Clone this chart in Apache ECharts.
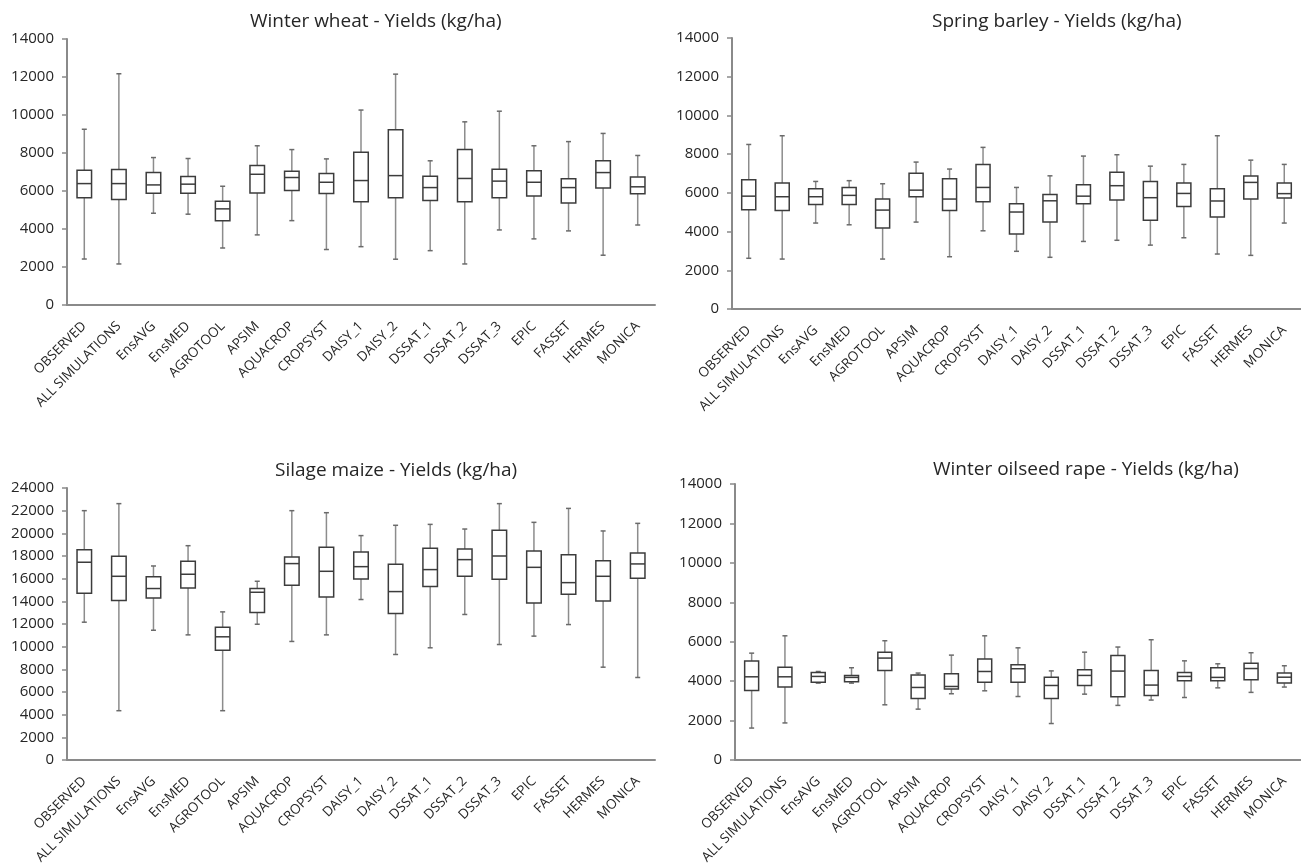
<!DOCTYPE html>
<html>
<head>
<meta charset="utf-8">
<script src="https://cdn.jsdelivr.net/npm/echarts@6/dist/echarts.min.js"></script>
<style>
html,body{margin:0;padding:0;background:#fff;}
#c{width:1301px;height:868px;}
</style>
</head>
<body>
<div id="c"></div>
<script>
const categories = ["OBSERVED","ALL SIMULATIONS","EnsAVG","EnsMED","AGROTOOL","APSIM","AQUACROP","CROPSYST","DAISY_1","DAISY_2","DSSAT_1","DSSAT_2","DSSAT_3","EPIC","FASSET","HERMES","MONICA"];

// [low whisker, Q1, median, Q3, high whisker]
const winterWheat = [
  [2420,5640,6390,7090,9250],
  [2160,5550,6390,7130,12170],
  [4830,5880,6320,6970,7760],
  [4780,5880,6360,6760,7710],
  [3000,4440,5060,5460,6250],
  [3690,5900,6880,7340,8380],
  [4440,6020,6710,7040,8180],
  [2920,5870,6460,6920,7690],
  [3070,5430,6550,8040,10260],
  [2410,5640,6810,9220,12150],
  [2860,5500,6180,6780,7590],
  [2160,5430,6660,8180,9640],
  [3950,5640,6520,7150,10200],
  [3480,5740,6460,7060,8380],
  [3900,5370,6180,6640,8600],
  [2620,6160,6970,7590,9030],
  [4210,5850,6220,6740,7870]
];
const springBarley = [
  [2620,5130,5830,6680,8500],
  [2580,5090,5800,6510,8950],
  [4440,5400,5800,6210,6590],
  [4350,5400,5870,6280,6630],
  [2580,4180,5110,5680,6470],
  [4490,5800,6140,7010,7590],
  [2700,5090,5680,6730,7230],
  [4040,5540,6280,7470,8350],
  [2980,3870,5010,5440,6280],
  [2670,4490,5590,5920,6880],
  [3490,5440,5830,6420,7900],
  [3550,5630,6370,7060,7970],
  [3300,4580,5750,6590,7380],
  [3680,5300,5970,6510,7470],
  [2840,4750,5580,6210,8950],
  [2770,5680,6540,6870,7690],
  [4440,5730,5960,6510,7470]
];
const silageMaize = [
  [12160,14710,17450,18560,22000],
  [4350,14070,16210,17970,22620],
  [11450,14300,15130,16180,17120],
  [11040,15180,16390,17530,18910],
  [4350,9690,10870,11720,13070],
  [11980,13010,14800,15130,15770],
  [10460,15420,17330,17920,22000],
  [11040,14390,16650,18770,21820],
  [14160,15980,17060,18360,19800],
  [9310,12920,14860,17270,20710],
  [9900,15300,16800,18680,20790],
  [12840,16210,17680,18620,20380],
  [10190,15950,18000,20270,22620],
  [10930,13860,17000,18440,20970],
  [11950,14630,15650,18120,22200],
  [8190,14040,16210,17590,20210],
  [7280,16040,17300,18270,20880]
];
const winterOilseedRape = [
  [1620,3530,4220,5020,5420],
  [1880,3700,4220,4710,6300],
  [3900,3950,4240,4440,4490],
  [3900,3970,4190,4290,4680],
  [2800,4540,5170,5470,6050],
  [2580,3120,3680,4310,4410],
  [3360,3600,3730,4370,5320],
  [3510,3950,4490,5120,6300],
  [3220,3950,4630,4830,5690],
  [1850,3120,3780,4200,4520],
  [3340,3780,4290,4580,5470],
  [2770,3210,4510,5300,5730],
  [3040,3270,3800,4540,6100],
  [3170,4020,4240,4440,5030],
  [3660,4020,4190,4680,4880],
  [3430,4070,4640,4910,5440],
  [3700,3900,4200,4410,4780]
];
const titles = ["Winter wheat - Yields (kg/ha)","Spring barley - Yields (kg/ha)","Silage maize - Yields (kg/ha)","Winter oilseed rape - Yields (kg/ha)"];
const yMax = [14000,14000,24000,14000];
const yInterval = 2000;

const FONT = "'Open Sans', 'DejaVu Sans', sans-serif";
const TEXT = '#262626';
const AXIS = '#8a8a8a';

const grids = [
  {left:67, top:39, width:588, height:266},
  {left:732, top:38, width:569, height:271},
  {left:67, top:488, width:588, height:272},
  {left:735, top:484, width:566, height:276}
];
const titlePos = [
  {left:245, top:7},
  {left:927, top:7},
  {left:270, top:456},
  {left:928, top:455}
];
const datasets = [winterWheat, springBarley, silageMaize, winterOilseedRape];

function renderBox(params, api) {
  const i = api.value(0);
  const pLo = api.coord([i, api.value(1)]);
  const pQ1 = api.coord([i, api.value(2)]);
  const pMed = api.coord([i, api.value(3)]);
  const pQ3 = api.coord([i, api.value(4)]);
  const pHi = api.coord([i, api.value(5)]);
  const band = api.size([1, 0])[0];
  const hw = band * 0.21;
  const cw = 2.5;
  const x = pLo[0];
  const wStyle = {stroke:'#8c8c8c', lineWidth:1.5};
  const cStyle = {stroke:'#6a6a6a', lineWidth:1.5};
  const bStyle = {stroke:'#3c3c3c', lineWidth:1.5, fill:'#fff'};
  return {
    type:'group',
    children:[
      {type:'line', shape:{x1:x,y1:pHi[1],x2:x,y2:pQ3[1]}, style:wStyle},
      {type:'line', shape:{x1:x,y1:pQ1[1],x2:x,y2:pLo[1]}, style:wStyle},
      {type:'line', shape:{x1:x-cw,y1:pHi[1],x2:x+cw,y2:pHi[1]}, style:cStyle},
      {type:'line', shape:{x1:x-cw,y1:pLo[1],x2:x+cw,y2:pLo[1]}, style:cStyle},
      {type:'rect', shape:{x:x-hw,y:pQ3[1],width:hw*2,height:pQ1[1]-pQ3[1]}, style:bStyle},
      {type:'line', shape:{x1:x-hw,y1:pMed[1],x2:x+hw,y2:pMed[1]}, style:{stroke:'#3c3c3c', lineWidth:1.5}}
    ]
  };
}

const option = {
  backgroundColor:'#fff',
  animation:false,
  title: titles.map((t,k)=>({
    text:t, left:titlePos[k].left, top:titlePos[k].top,
    textStyle:{fontFamily:FONT, fontSize:19, fontWeight:'normal', color:TEXT}
  })),
  grid: grids.map(g=>Object.assign({containLabel:false}, g)),
  xAxis: grids.map((g,k)=>({
    type:'category', gridIndex:k, data:categories, boundaryGap:true,
    axisLine:{show:true, lineStyle:{color:AXIS, width:2}},
    axisTick:{show:false},
    splitLine:{show:false},
    axisLabel:{interval:0, rotate:45, margin:19, fontFamily:FONT, fontSize:13.5, color:TEXT}
  })),
  yAxis: grids.map((g,k)=>({
    type:'value', gridIndex:k, min:0, max:yMax[k], interval:yInterval,
    axisLine:{show:true, lineStyle:{color:AXIS, width:2}},
    axisTick:{show:true, length:5, lineStyle:{color:AXIS, width:1.5}},
    splitLine:{show:false},
    axisLabel:{margin:13, fontFamily:FONT, fontSize:15, color:TEXT, formatter:(v)=>String(v)}
  })),
  series: datasets.map((d,k)=>({
    type:'custom', xAxisIndex:k, yAxisIndex:k,
    renderItem:renderBox,
    encode:{x:0, y:[1,2,3,4,5]},
    data:d.map((r,i)=>[i].concat(r))
  }))
};

const chart = echarts.init(document.getElementById('c'), null, {renderer:'canvas'});
chart.setOption(option);
</script>
</body>
</html>
